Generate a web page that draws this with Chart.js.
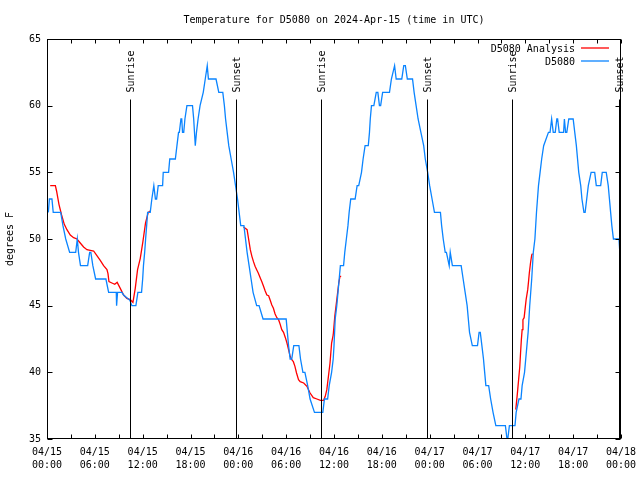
<!DOCTYPE html>
<html>
<head>
<meta charset="utf-8">
<title>Temperature for D5080</title>
<script src="https://cdn.jsdelivr.net/npm/chart.js@4.4.1/dist/chart.umd.min.js"></script>
<style>
  html, body { margin: 0; padding: 0; background: #fff; }
  #chart { display: block; }
</style>
</head>
<body>
<canvas id="chart" width="640" height="480"></canvas>
<script>
'use strict'

const chartTitle = 'Temperature for D5080 on 2024-Apr-15 (time in UTC)';
const yAxisLabel = 'degrees F';
const observedName = 'D5080';
const analysisName = 'D5080 Analysis';

// hours since 04/15 00:00 UTC
const observedHours = [
    0.17, 0.3, 0.62, 0.78, 1.72, 2.0, 2.35, 2.84, 3.6, 3.8, 3.95, 4.2, 5.1, 5.35, 5.5, 5.75, 6.1, 7.39, 7.73, 8.69,
    8.73, 8.85, 9.4, 9.6, 10.4, 10.65, 11.15, 11.4, 11.86, 12.0, 12.1, 12.25, 12.37, 12.5, 12.62, 12.95, 13.15, 13.4, 13.6, 13.75,
    13.95, 14.5, 14.58, 15.25, 15.4, 16.1, 16.3, 16.5, 16.6, 16.8, 16.9, 17.0, 17.15, 17.3, 17.55, 18.25, 18.4, 18.6, 18.75, 18.95,
    19.2, 19.6, 19.85, 20.1, 20.25, 21.2, 21.55, 22.05, 22.25, 22.4, 22.6, 22.8, 23.1, 23.4, 23.65, 23.9, 24.1, 24.3, 24.7, 24.9,
    25.1, 25.35, 25.6, 25.85, 26.3, 26.6, 27.1, 30.0, 30.15, 30.3, 30.5, 30.7, 30.95, 31.6, 31.8, 32.1, 32.35, 32.7, 33.0, 33.55,
    34.6, 34.8, 35.2, 35.4, 35.7, 35.9, 36.0, 36.15, 36.35, 36.5, 36.65, 36.8, 37.2, 37.35, 37.55, 37.75, 37.9, 38.1, 38.65, 38.9,
    39.1, 39.45, 39.65, 39.9, 40.3, 40.45, 40.55, 40.7, 41.0, 41.3, 41.5, 41.7, 41.85, 42.1, 42.96, 43.2, 43.6, 43.8, 44.5, 44.75,
    44.95, 45.2, 45.85, 46.05, 46.3, 46.55, 46.9, 47.25, 47.45, 47.75, 48.0, 48.3, 48.6, 49.35, 49.5, 49.7, 49.95, 50.1, 50.45, 50.58,
    50.85, 51.95, 52.2, 52.45, 52.7, 52.85, 53.0, 53.35, 54.0, 54.2, 54.35, 54.55, 54.75, 54.9, 55.05, 55.4, 55.65, 55.95, 56.3, 57.5,
    57.7, 57.8, 58.0, 58.7, 58.85, 59.2, 59.45, 59.6, 59.9, 60.05, 60.2, 60.35, 60.55, 60.8, 61.0, 61.2, 61.4, 61.65, 61.85, 62.05,
    62.3, 62.9, 63.1, 63.3, 63.5, 63.75, 63.95, 64.05, 64.25, 64.8, 64.9, 65.05, 65.2, 65.45, 66.0, 66.2, 66.4, 66.55, 66.7, 66.95,
    67.1, 67.35, 67.5, 67.7, 67.9, 68.25, 68.7, 68.9, 69.45, 69.65, 70.15, 70.4, 70.55, 70.7, 70.85, 71.05, 71.75, 71.85, 72.0
];
const observedTemps = [
    52, 53, 53, 52, 52, 51, 50, 49, 49, 50, 49, 48, 48, 49, 49, 48, 47, 47, 46, 46,
    45, 46, 46, 45.8, 45.4, 45, 45, 46, 46, 47, 48, 49, 50, 51, 52, 52, 53, 54, 53, 53,
    54, 54, 55, 55, 56, 56, 57, 58, 58, 59, 59, 58, 58, 59, 60, 60, 59, 57, 58, 59,
    60, 61, 62, 63, 62, 62, 61, 61, 60, 59, 58, 57, 56, 55, 54, 53, 52, 51, 51, 50,
    49, 48, 47, 46, 45, 45, 44, 44, 43, 42, 41, 41, 42, 42, 41, 40, 40, 39, 38, 37,
    37, 38, 38, 39, 40, 41, 42, 44, 45, 46, 47, 48, 48, 49, 50, 51, 52, 53, 53, 54,
    54, 55, 56, 57, 57, 58, 59, 60, 60, 61, 61, 60, 60, 61, 61, 62, 63, 62, 62, 63,
    63, 62, 62, 61, 60, 59, 58, 57, 56, 55, 54, 53, 52, 52, 51, 50, 49, 49, 48, 49,
    48, 48, 47, 46, 45, 44, 43, 42, 42, 43, 43, 42, 41, 40, 39, 39, 38, 37, 36, 36,
    35, 35, 36, 36, 37, 38, 38, 39, 40, 41, 42, 43, 45, 47, 49, 50, 52, 54, 55, 56,
    57, 58, 58, 59, 58, 58, 59, 59, 58, 58, 59, 58, 58, 59, 59, 58, 57, 56, 55, 54,
    53, 52, 52, 53, 54, 55, 55, 54, 54, 55, 55, 54, 53, 52, 51, 50, 50, 49, 49
];

// analysis runs in three pieces, null marks the gaps
const analysisHours = [
    0.4, 1.05, 1.2, 1.5, 1.83, 2.17, 2.5, 2.92, 3.34, 3.76, 4.17, 4.59, 5.01, 5.43, 5.85, 6.26, 6.68, 7.1, 7.52, 7.65,
    7.77, 8.14, 8.5, 8.8, 9.19, 9.61, 10.02, 10.44, 10.78, 11.07, 11.36, 11.7, 12.03, 12.36, 12.7, 12.95,
    18.0,
    24.65, 25.1, 25.3, 25.5, 25.7, 25.9, 26.1, 26.3, 26.5, 26.74, 26.95, 27.16, 27.37, 27.58, 27.8, 28.0, 28.2, 28.4, 28.6,
    28.83, 29.05, 29.25, 29.45, 29.67, 29.9, 30.1, 30.3, 30.5, 30.7, 30.9, 31.1, 31.3, 31.55, 31.76, 32.2, 32.6, 33.0, 33.4,
    33.85, 34.3, 34.7, 34.9, 35.1, 35.3, 35.5, 35.7, 35.9, 36.1, 36.4, 36.6, 36.75, 36.9,
    48.0,
    58.8, 59.0, 59.15, 59.3, 59.4, 59.5, 59.6, 59.7, 59.85, 59.96, 60.1, 60.3, 60.4, 60.5, 60.65, 60.8, 60.9
];
const analysisTemps = [
    54, 54, 53.6, 52.6, 51.8, 51.1, 50.7, 50.3, 50.1, 50.0, 49.7, 49.4, 49.2, 49.15, 49.1, 48.75, 48.4, 48.0, 47.7, 47.4,
    46.8, 46.7, 46.6, 46.75, 46.3, 45.8, 45.55, 45.45, 45.25, 46.3, 47.7, 48.55, 49.8, 51.2, 52.0, 52.1,
    null,
    50.9, 50.7, 49.95, 49.2, 48.7, 48.3, 47.95, 47.7, 47.45, 47.1, 46.8, 46.45, 46.1, 45.8, 45.75, 45.4, 45.05, 44.8, 44.4,
    44.1, 43.95, 43.6, 43.2, 43.0, 42.6, 42.2, 41.7, 41.2, 40.95, 40.8, 40.45, 39.95, 39.45, 39.3, 39.2, 38.95, 38.45, 38.1,
    38.0, 37.9, 37.9, 38.2, 38.7, 39.7, 40.7, 42.2, 42.8, 44.2, 45.7, 46.7, 47.2, 47.2,
    null,
    37.2, 38.4, 39.4, 40.4, 41.45, 42.45, 43.2, 43.95, 44.1, 44.7, 45.45, 46.2, 46.8, 47.45, 48.2, 48.8, 48.9
];

const sunriseHours = [10.35, 34.37, 58.36];
const sunsetHours = [23.65, 47.7, 71.78];

const xTickLabels = [
    ['04/15', '00:00'], ['04/15', '06:00'], ['04/15', '12:00'], ['04/15', '18:00'],
    ['04/16', '00:00'], ['04/16', '06:00'], ['04/16', '12:00'], ['04/16', '18:00'],
    ['04/17', '00:00'], ['04/17', '06:00'], ['04/17', '12:00'], ['04/17', '18:00'],
    ['04/18', '00:00']
];
const yTickValues = [35, 40, 45, 50, 55, 60, 65];

const FONT = "'DejaVu Sans Mono', 'Liberation Mono', monospace";
const blueColor = '#0a84ff';
const redColor = '#ff0000';

function toPoints(hours, temps){
    let points = [];
    for (let i = 0; i < hours.length; i++){
        points.push({x: hours[i], y: temps[i]});
    }
    return points;
}

const framePlugin = {
    id: 'frame',
    afterDatasetsDraw(chart){
        const ctx = chart.ctx;
        const area = chart.chartArea;
        const xs = chart.scales.x;
        const ys = chart.scales.y;
        const left = Math.round(area.left) + 0.5;
        const right = Math.round(area.right) - 0.5;
        const top = Math.round(area.top) + 0.5;
        const bottom = Math.round(area.bottom) - 0.5;
        ctx.save();
        ctx.strokeStyle = '#000';
        ctx.fillStyle = '#000';
        ctx.lineWidth = 1;

        // sunrise / sunset markers
        ctx.font = '10px ' + FONT;
        const events = [];
        for (let h of sunriseHours) events.push([h, 'Sunrise']);
        for (let h of sunsetHours) events.push([h, 'Sunset']);
        for (let ev of events){
            const px = Math.round(xs.getPixelForValue(ev[0])) + 0.5;
            ctx.beginPath();
            ctx.moveTo(px, top + 60);
            ctx.lineTo(px, bottom);
            ctx.stroke();
            ctx.save();
            ctx.translate(px + 1, top + 53);
            ctx.rotate(-Math.PI / 2);
            ctx.textAlign = 'left';
            ctx.textBaseline = 'middle';
            ctx.fillText(ev[1], 0, 0);
            ctx.restore();
        }

        // plot box
        ctx.strokeRect(left, top, right - left, bottom - top);

        // inward ticks
        ctx.beginPath();
        for (let v of yTickValues){
            const py = Math.round(ys.getPixelForValue(v)) + 0.5;
            ctx.moveTo(left, py); ctx.lineTo(left + 5, py);
            ctx.moveTo(right, py); ctx.lineTo(right - 5, py);
        }
        for (let h = xs.min; h <= xs.max; h += 3){
            const px = Math.round(xs.getPixelForValue(h)) + 0.5;
            ctx.moveTo(px, bottom); ctx.lineTo(px, bottom - 4);
            ctx.moveTo(px, top); ctx.lineTo(px, top + 4);
        }
        ctx.stroke();

        // legend
        ctx.textAlign = 'right';
        ctx.textBaseline = 'middle';
        const rows = [[analysisName, redColor], [observedName, blueColor]];
        for (let i = 0; i < rows.length; i++){
            const ry = area.top + 10 + i * 13;
            ctx.fillStyle = '#000';
            ctx.fillText(rows[i][0], area.right - 46, ry);
            ctx.strokeStyle = rows[i][1];
            ctx.lineWidth = 1.3;
            ctx.beginPath();
            ctx.moveTo(area.right - 40, Math.round(ry) - 1);
            ctx.lineTo(area.right - 12, Math.round(ry) - 1);
            ctx.stroke();
        }

        // title and y axis label
        ctx.fillStyle = '#000';
        ctx.textAlign = 'center';
        ctx.fillText(chartTitle, (area.left + area.right) / 2, 20);
        ctx.save();
        ctx.translate(10, (area.top + area.bottom) / 2);
        ctx.rotate(-Math.PI / 2);
        ctx.fillText(yAxisLabel, 0, 0);
        ctx.restore();

        ctx.restore();
    }
};

const chart = new Chart(document.getElementById('chart'), {
    type: 'line',
    data: {
        datasets: [{
            label: analysisName,
            data: toPoints(analysisHours, analysisTemps),
            borderColor: redColor,
            borderWidth: 1.3,
            pointRadius: 0,
            spanGaps: false,
            order: 2
        },
        {
            label: observedName,
            data: toPoints(observedHours, observedTemps),
            borderColor: blueColor,
            borderWidth: 1.3,
            pointRadius: 0,
            order: 1
        }]
    },
    options: {
        responsive: false,
        animation: false,
        devicePixelRatio: 1,
        layout: { autoPadding: false, padding: { top: 39, right: 19, left: 0, bottom: 0 } },
        plugins: {
            legend: { display: false },
            tooltip: { enabled: false }
        },
        scales: {
            x: {
                type: 'linear',
                min: 0,
                max: 72,
                grid: { display: false, drawTicks: false },
                border: { display: false },
                ticks: {
                    stepSize: 6,
                    autoSkip: false,
                    maxRotation: 0,
                    padding: 7,
                    color: '#000',
                    font: { family: FONT, size: 10, lineHeight: 1.3 },
                    callback: (value, index) => xTickLabels[index]
                },
                afterFit: (scale) => {
                    scale.height = 41;
                    scale.paddingLeft = 0;
                    scale.paddingRight = 0;
                }
            },
            y: {
                min: yTickValues[0],
                max: yTickValues[yTickValues.length - 1],
                grid: { display: false, drawTicks: false },
                border: { display: false },
                ticks: {
                    stepSize: 5,
                    padding: 6,
                    color: '#000',
                    font: { family: FONT, size: 10 }
                },
                afterFit: (scale) => { scale.width = 47; }
            }
        }
    },
    plugins: [framePlugin]
});
</script>
</body>
</html>
